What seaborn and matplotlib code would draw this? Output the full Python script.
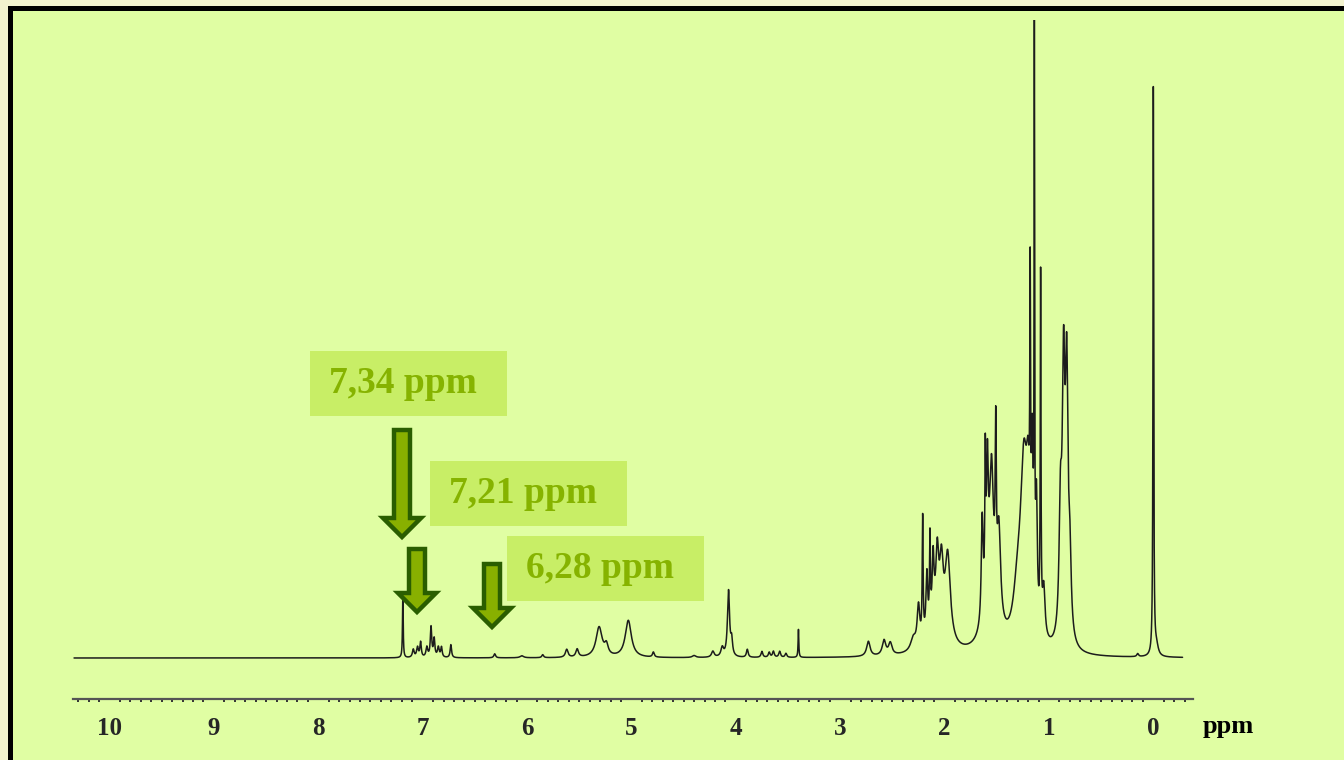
import numpy as np
import pandas as pd
import matplotlib
matplotlib.use('Agg')
import matplotlib.pyplot as plt
import matplotlib.patches as mpatches
from matplotlib.transforms import IdentityTransform
from matplotlib.ticker import MultipleLocator
import seaborn as sns

# Picos del espectro 1H-RMN: posicion (ppm), altura, semiancho (ppm)
peak_ppm = [7.19, 7.09, 7.05, 7.02, 6.96, 6.92, 6.89, 6.85, 6.82, 6.73, 6.31, 6.05, 5.85,
            5.62, 5.52, 5.31, 5.24, 5.03, 4.79, 4.40, 4.22, 4.13, 4.07, 4.04, 3.89, 3.75,
            3.68, 3.64, 3.58, 3.52, 3.40, 2.73, 2.58, 2.52, 2.30, 2.25, 2.21, 2.17, 2.14,
            2.11, 2.07, 2.03, 1.97, 2.08, 1.64, 1.61, 1.59, 1.55, 1.51, 1.48, 1.56, 1.30,
            1.24, 1.20, 1.18, 1.16, 1.14, 1.12, 1.08, 1.05, 0.89, 0.86, 0.83, 0.80,
            0.15, 0.00, -0.03]
peak_height = [65, 8, 10, 15, 10, 30, 18, 10, 10, 13, 4, 2, 3,
               8, 8, 30, 10, 37, 5, 2, 6, 9, 66, 15, 8, 6,
               5, 6, 6, 4, 28, 15, 15, 12, 12, 40, 120, 60, 85,
               60, 60, 60, 85, 35, 100, 130, 120, 110, 150, 90, 70, 45,
               170, 100, 260, 150, 550, 120, 350, 50, 120, 250, 250, 70,
               3, 568, 10]
peak_hwhm = [0.004, 0.01, 0.01, 0.008, 0.01, 0.008, 0.008, 0.01, 0.008, 0.008, 0.01, 0.02, 0.01,
             0.015, 0.015, 0.035, 0.02, 0.035, 0.01, 0.02, 0.015, 0.015, 0.012, 0.01, 0.01, 0.01,
             0.01, 0.01, 0.01, 0.01, 0.004, 0.02, 0.02, 0.02, 0.03, 0.015, 0.005, 0.01, 0.005,
             0.01, 0.015, 0.02, 0.03, 0.08, 0.01, 0.005, 0.01, 0.02, 0.006, 0.02, 0.06, 0.05,
             0.04, 0.02, 0.004, 0.01, 0.003, 0.01, 0.004, 0.015, 0.015, 0.015, 0.015, 0.015,
             0.01, 0.004, 0.02]

major_ticks = [10, 9, 8, 7, 6, 5, 4, 3, 2, 1, 0]
tick_labels = [str(t) for t in major_ticks]
annot_labels = ['7,34 ppm', '7,21 ppm', '6,28 ppm']

# Espectro como suma de lorentzianas
ppm = np.linspace(10.34, -0.28, 40000)
intensity = np.zeros_like(ppm)
for p, h, w in zip(peak_ppm, peak_height, peak_hwhm):
    intensity += h * w ** 2 / ((ppm - p) ** 2 + w ** 2)
df = pd.DataFrame({'ppm': ppm, 'intensity': intensity})

sns.set_style('white')
plt.rcParams['font.family'] = ['Liberation Serif', 'DejaVu Serif']

W, H = 1344, 760
fig = plt.figure(figsize=(W / 100, H / 100), dpi=100, facecolor='#f3f3cf')

# marco negro con fondo verde claro
fondo = mpatches.Rectangle((10, -20), 1400, H - 8 + 20, transform=IdentityTransform(),
                           facecolor='#e0fea3', edgecolor='black', linewidth=3.6, zorder=-1)
fig.patches.append(fondo)

ax = fig.add_axes([73 / W, 61 / H, 1120 / W, 679 / H])
ax.set_facecolor('none')
sns.lineplot(data=df, x='ppm', y='intensity', ax=ax, color='#1c1c1c', linewidth=1.1,
             estimator=None, sort=False)
ax.set_xlim(10.35, -0.38)
ax.set_ylim(-41, 638)
ax.set_xlabel('')
ax.set_ylabel('')
ax.set_yticks([])
ax.set_xticks(major_ticks)
ax.set_xticklabels(tick_labels, fontsize=18, fontweight='bold')
ax.xaxis.set_minor_locator(MultipleLocator(0.1))
ax.tick_params(axis='x', which='major', direction='out', length=8, width=1.6,
               color='#333333', pad=5)
ax.tick_params(axis='x', which='minor', direction='out', length=2.5, width=1.4,
               color='#333333', bottom=True)
for side in ['top', 'left', 'right']:
    ax.spines[side].set_visible(False)
ax.spines['bottom'].set_color('#555555')
ax.spines['bottom'].set_linewidth(1.6)

fig.text(1203, H - 726, 'ppm', transform=IdentityTransform(), fontsize=19,
         fontweight='bold', va='center', ha='left', color='black')

# cajas de anotacion (x0, y0, x1, y1 en pixeles desde arriba)
cajas = [(310, 351, 507, 416), (430, 461, 627, 526), (507, 536, 704, 601)]
for (x0, y0, x1, y1), lab in zip(cajas, annot_labels):
    r = mpatches.Rectangle((x0, H - y1), x1 - x0, y1 - y0, transform=IdentityTransform(),
                           facecolor='#c8ee66', edgecolor='none', zorder=3)
    fig.patches.append(r)
    fig.text(x0 + 19, H - (y0 + y1) / 2, lab, transform=IdentityTransform(), fontsize=27,
             fontweight='bold', color='#86b300', va='center', ha='left', zorder=4)

# flechas (centro x, y superior, y inicio cabeza, y punta)
flechas = [(402, 430, 518, 537), (417, 549, 593, 612), (492, 564, 608, 627)]
for cx, yt, yh, yp in flechas:
    sw, hw = 8, 19
    verts = [(cx - sw, yt), (cx + sw, yt), (cx + sw, yh), (cx + hw, yh), (cx, yp),
             (cx - hw, yh), (cx - sw, yh)]
    verts = [(x, H - y) for x, y in verts]
    poly = mpatches.Polygon(verts, closed=True, transform=IdentityTransform(),
                            facecolor='#88b000', edgecolor='#2a5e00', linewidth=3.2,
                            joinstyle='miter', zorder=5)
    fig.patches.append(poly)

plt.savefig('out.png', dpi=100, facecolor=fig.get_facecolor())
